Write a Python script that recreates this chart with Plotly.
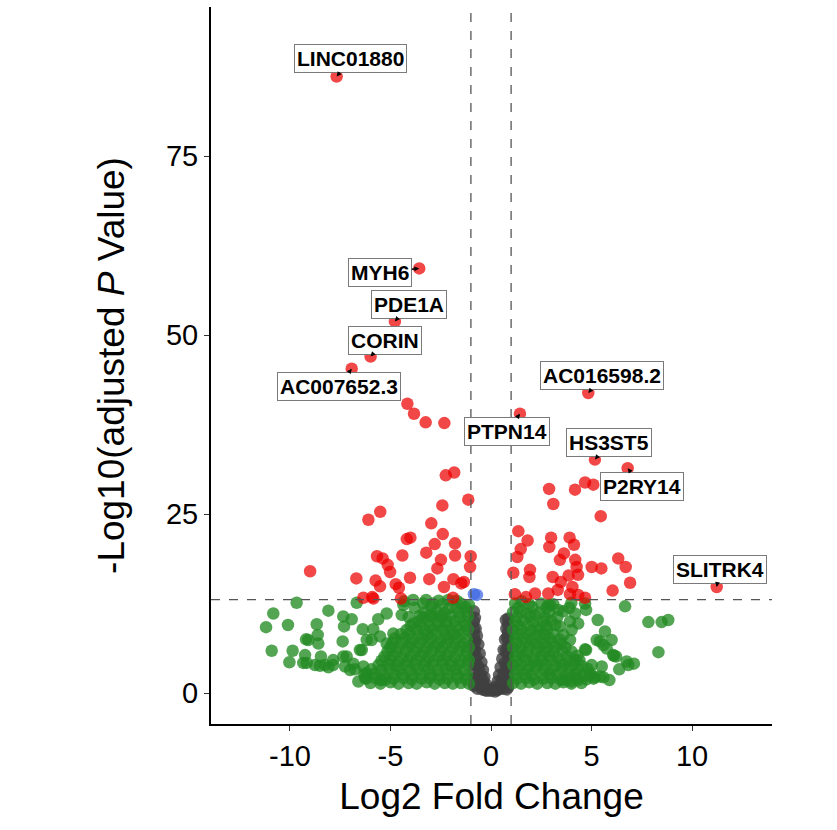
import plotly.graph_objects as go

# ---------------- data (log2 fold change, -log10 adjusted p) ----------------
label_genes = ["LINC01880", "MYH6", "PDE1A", "CORIN", "AC007652.3",
               "PTPN14", "AC016598.2", "HS3ST5", "P2RY14", "SLITRK4"]
label_lfc = [-7.68, -3.57, -4.78, -5.99, -6.93, 1.44, 4.84, 5.17, 6.80, 11.23]
label_padj = [86.1, 59.3, 51.9, 47.0, 45.3, 39.0, 41.9, 32.6, 31.4, 14.8]
# label offsets from point (px, right / down)
label_dx = [14, -39, 14, 14, -13, -13, 14, 14, 14, 3]
label_dy = [-18, 4, -17, -16, 18, 18, -17, -17, 18, -18]

red_pts = [
    (-4.16, 40.4), (-3.83, 39.0), (-3.25, 37.8), (-2.32, 37.7),
    (-2.25, 30.4), (-1.83, 30.8), (-1.13, 27.0), (-2.42, 26.2), (-5.51, 25.3),
    (-6.10, 24.2), (-2.97, 23.7), (-4.19, 21.5), (-4.01, 21.7), (-2.40, 22.2),
    (-2.80, 20.8), (-1.79, 20.9), (-3.22, 19.6), (-4.41, 19.2), (-5.67, 19.1),
    (-5.39, 18.8), (-1.79, 19.2), (-1.01, 19.1), (-2.49, 18.6), (-5.14, 17.9),
    (-1.04, 17.6), (-2.67, 17.4), (-5.02, 16.9), (-6.70, 16.0), (-4.03, 16.1),
    (-3.07, 15.9), (-5.74, 15.7), (-1.87, 15.9), (-1.48, 15.3), (-1.35, 15.5),
    (-5.52, 14.9), (-4.74, 15.2), (-4.58, 14.7), (-2.34, 14.8), (-6.35, 13.3),
    (-5.91, 13.4), (-5.85, 13.2), (-4.48, 13.2), (-1.89, 13.3), (-9.00, 17.0),
    (2.89, 28.5), (4.18, 28.4), (4.68, 29.4), (5.09, 29.1), (3.10, 26.4),
    (5.46, 24.7), (1.36, 22.6), (1.82, 21.3), (2.99, 21.7), (3.91, 21.7),
    (1.48, 20.1), (2.90, 20.4), (4.13, 20.7), (1.31, 19.0), (3.63, 19.5),
    (3.43, 18.6), (4.19, 18.6), (6.33, 18.8), (1.94, 17.2), (4.26, 17.6),
    (5.01, 17.6), (5.49, 17.4), (6.70, 17.6), (1.11, 16.8), (1.91, 16.2),
    (3.07, 16.2), (3.86, 16.4), (4.33, 16.5), (3.47, 15.5), (4.05, 14.8),
    (3.32, 14.4), (6.92, 15.4), (6.05, 14.3), (2.85, 13.9), (3.93, 13.8),
    (1.19, 13.8), (2.19, 13.9), (4.68, 13.3), (1.74, 13.4), (4.34, 13.7),
]

blue_pts = [(-0.85, 13.8), (-0.70, 13.7)]

grey_pts = [
    (-0.85, 11.4), (-0.80, 10.5), (-0.76, 9.0), (-0.70, 8.0), (-0.63, 6.8),
    (-0.56, 5.5), (-0.48, 4.3), (-0.40, 3.2), (-0.33, 2.2), (-0.25, 1.2),
    (-0.15, 0.6), (-0.85, 9.0), (-0.85, 7.0), (-0.85, 5.0), (-0.85, 3.0),
    (-0.85, 1.0), (-0.80, 6.0), (-0.76, 4.0), (-0.72, 2.0), (-0.68, 0.6),
    (-0.58, 3.0), (-0.53, 1.2), (-0.45, 0.5), (-0.40, 1.8), (-0.30, 0.4),
    (-0.85, 10.0), (-0.85, 8.0), (-0.85, 6.0), (-0.85, 4.0), (-0.85, 2.0),
    (-0.78, 7.2), (-0.72, 5.0), (-0.66, 3.8), (-0.60, 2.2), (-0.78, 1.2),
    (-0.50, 2.4), (-0.35, 1.0), (-0.20, 0.3),
    (0.85, 10.4), (0.74, 10.2), (0.76, 9.0), (0.70, 7.5), (0.63, 6.0),
    (0.56, 4.8), (0.48, 3.6), (0.40, 2.5), (0.33, 1.6), (0.25, 0.9),
    (0.10, 0.4), (0.00, 0.3), (0.85, 8.5), (0.85, 6.5), (0.85, 4.5),
    (0.85, 2.5), (0.85, 0.8), (0.80, 5.5), (0.76, 3.5), (0.72, 1.6),
    (0.63, 0.6), (0.58, 2.2), (0.48, 1.0), (0.40, 0.5),
    (0.85, 9.5), (0.85, 7.5), (0.85, 5.5), (0.85, 3.5), (0.85, 1.6),
    (0.80, 7.8), (0.75, 6.0), (0.68, 4.2), (0.63, 2.8), (0.78, 0.5),
    (0.53, 1.6), (0.30, 0.4), (0.20, 0.2),
]

green_pts = [
    # left scattered
    (-9.67, 12.6), (-10.83, 11.1), (-11.19, 9.2), (-10.10, 9.5), (-10.91, 5.9),
    (-9.87, 5.9), (-10.03, 4.3), (-9.34, 4.2), (-9.17, 4.2), (-9.09, 7.4),
    (-9.20, 7.5), (-8.67, 9.6), (-8.62, 8.1), (-8.59, 6.9), (-8.09, 11.5),
    (-7.35, 10.7), (-7.31, 9.3), (-6.93, 10.3), (-7.38, 7.2), (-9.25, 5.3),
    (-8.46, 5.1), (-8.51, 3.8), (-8.09, 3.6), (-7.85, 4.6), (-7.35, 5.1),
    (-7.26, 3.7), (-7.01, 3.2), (-6.77, 3.3), (-6.35, 3.7), (-6.38, 8.9),
    (-6.68, 12.6), (-5.61, 10.3), (-5.19, 11.1), (-5.86, 8.9), (-6.43, 6.0),
    (-5.94, 7.4), (-6.19, 2.8), (-6.27, 2.1), (-5.44, 1.8), (-4.86, 8.3),
    (-4.44, 10.9), (-4.36, 12.3), (-3.37, 12.5), (-3.87, 9.7), (-7.18, 5.1),
    (-6.85, 4.1), (-7.85, 3.9), (-8.26, 3.9), (-8.76, 3.9), (-6.52, 6.0),
    (-6.18, 7.4), (-5.52, 7.9), (-5.19, 6.9), (-4.33, 12.8), (-3.87, 13.0),
    (-3.23, 13.0), (-2.60, 12.9), (-2.12, 13.0), (-1.71, 12.9), (-3.53, 10.8),
    (-3.03, 10.9), (-2.54, 10.8), (-2.04, 10.8), (-5.52, 1.8), (-6.60, 1.6),
    # left dense mass
    (-6.0, 1.4), (-5.5, 1.3), (-5.0, 1.5), (-4.6, 1.3), (-4.1, 1.4), (-3.7, 1.3),
    (-3.2, 1.5), (-2.8, 1.3), (-2.3, 1.4), (-1.9, 1.3), (-1.5, 1.4), (-1.1, 1.3),
    (-6.2, 2.0), (-5.75, 2.1), (-5.25, 1.9), (-4.85, 2.0), (-4.35, 2.1), (-3.95, 1.9),
    (-3.45, 2.0), (-3.05, 2.1), (-2.55, 1.9), (-2.15, 2.0), (-1.65, 2.1), (-1.25, 1.9),
    (-6.3, 2.6), (-5.8, 2.7), (-5.3, 2.5), (-4.8, 2.7), (-4.4, 2.6), (-3.9, 2.5),
    (-3.5, 2.7), (-3.0, 2.6), (-2.6, 2.5), (-2.1, 2.7), (-1.7, 2.6), (-1.2, 2.5),
    (-5.95, 3.3), (-5.45, 3.2), (-5.05, 3.4), (-4.55, 3.3), (-4.05, 3.2), (-3.65, 3.4),
    (-3.15, 3.3), (-2.65, 3.2), (-2.25, 3.4), (-1.75, 3.3), (-1.35, 3.2),
    (-5.6, 3.9), (-5.1, 4.0), (-4.7, 3.8), (-4.2, 3.9), (-3.8, 4.0), (-3.3, 3.8),
    (-2.9, 3.9), (-2.4, 4.0), (-2.0, 3.8), (-1.6, 3.9), (-1.15, 4.0),
    (-5.45, 4.5), (-5.0, 4.6), (-4.6, 4.4), (-4.15, 4.5), (-3.7, 4.6), (-3.25, 4.4),
    (-2.85, 4.5), (-2.4, 4.6), (-1.95, 4.4), (-1.5, 4.5), (-1.1, 4.6),
    (-5.3, 5.1), (-4.9, 5.2), (-4.4, 5.0), (-4.0, 5.1), (-3.5, 5.2), (-3.1, 5.0),
    (-2.6, 5.1), (-2.2, 5.2), (-1.8, 5.0), (-1.3, 5.1),
    (-5.15, 5.8), (-4.7, 5.7), (-4.25, 5.9), (-3.8, 5.8), (-3.35, 5.7), (-2.95, 5.9),
    (-2.5, 5.8), (-2.05, 5.7), (-1.6, 5.9), (-1.2, 5.8),
    (-5.0, 6.4), (-4.6, 6.3), (-4.1, 6.5), (-3.7, 6.4), (-3.2, 6.3), (-2.8, 6.5),
    (-2.4, 6.4), (-1.9, 6.3), (-1.5, 6.5), (-1.1, 6.4),
    (-4.9, 7.0), (-4.45, 7.1), (-4.0, 6.9), (-3.55, 7.0), (-3.1, 7.1), (-2.65, 6.9),
    (-2.2, 7.0), (-1.8, 7.1), (-1.35, 6.9),
    (-4.8, 7.6), (-4.3, 7.7), (-3.9, 7.5), (-3.4, 7.6), (-3.0, 7.7), (-2.5, 7.5),
    (-2.1, 7.6), (-1.7, 7.7), (-1.2, 7.5),
    (-4.5, 8.2), (-4.05, 8.3), (-3.6, 8.1), (-3.15, 8.2), (-2.7, 8.3), (-2.25, 8.1),
    (-1.85, 8.2), (-1.4, 8.3),
    (-4.2, 8.8), (-3.7, 8.9), (-3.3, 8.7), (-2.9, 8.8), (-2.4, 8.9), (-2.0, 8.7),
    (-1.6, 8.8), (-1.15, 8.9),
    (-4.0, 9.4), (-3.5, 9.5), (-3.05, 9.3), (-2.65, 9.4), (-2.2, 9.5), (-1.75, 9.3),
    (-1.25, 9.4),
    (-3.6, 10.0), (-3.1, 10.1), (-2.6, 9.9), (-2.2, 10.0), (-1.8, 10.1), (-1.3, 9.9),
    (-4.1, 10.6), (-3.4, 10.5), (-2.95, 10.7), (-2.45, 10.6), (-1.55, 10.5), (-1.15, 10.7),
    (-3.3, 11.3), (-2.7, 11.4), (-2.3, 11.2), (-1.6, 11.3), (-1.2, 11.4),
    (-3.8, 11.9), (-2.95, 12.0), (-2.1, 11.8), (-1.75, 11.9), (-1.25, 12.0),
    (-2.9, 12.5), (-2.4, 12.4), (-1.5, 12.5), (-1.1, 12.3),
    # right scattered
    (6.67, 12.1), (7.83, 9.9), (8.49, 9.9), (8.82, 10.2), (8.33, 5.7),
    (5.67, 8.6), (5.31, 10.2), (5.26, 7.4), (5.42, 7.2), (6.00, 7.4),
    (5.76, 6.2), (6.08, 5.3), (6.22, 5.1), (6.75, 4.4), (7.11, 4.1),
    (6.83, 3.9), (6.38, 3.3), (5.51, 3.7), (5.59, 2.2), (5.17, 2.2),
    (4.93, 2.4), (4.73, 6.0), (5.01, 3.9), (4.73, 11.6), (4.68, 12.5),
    (4.18, 11.1), (3.93, 10.0), (4.34, 9.7), (3.43, 9.3), (2.94, 12.3),
    (3.35, 11.6), (1.78, 11.1), (2.19, 10.9), (1.53, 12.8), (4.01, 8.8),
    (3.93, 7.4), (4.34, 1.8), (4.01, 1.6), (5.89, 1.8), (5.42, 2.3),
    (4.93, 2.8), (3.60, 1.8), (5.59, 6.7), (4.18, 4.6), (4.68, 6.1),
    (2.85, 12.3), (6.12, 5.2),
    # right dense mass
    (1.1, 1.4), (1.5, 1.3), (1.9, 1.5), (2.3, 1.3), (2.8, 1.4), (3.2, 1.3),
    (3.6, 1.5), (4.0, 1.3), (4.5, 1.4),
    (1.3, 2.0), (1.75, 2.1), (2.15, 1.9), (2.6, 2.0), (3.0, 2.1), (3.45, 1.9),
    (3.85, 2.0), (4.3, 2.1), (4.75, 1.9), (5.1, 2.0),
    (1.2, 2.6), (1.6, 2.7), (2.0, 2.5), (2.5, 2.6), (2.9, 2.7), (3.3, 2.5),
    (3.8, 2.6), (4.2, 2.7), (4.6, 2.5),
    (1.35, 3.3), (1.8, 3.2), (2.2, 3.4), (2.65, 3.3), (3.05, 3.2), (3.5, 3.4),
    (3.9, 3.3), (4.35, 3.2), (4.8, 3.4),
    (1.1, 3.9), (1.5, 4.0), (1.9, 3.8), (2.3, 3.9), (2.7, 4.0), (3.2, 3.8),
    (3.6, 3.9), (4.1, 4.0), (4.5, 3.8),
    (1.3, 4.5), (1.75, 4.6), (2.15, 4.4), (2.55, 4.5), (3.0, 4.6), (3.45, 4.4),
    (3.9, 4.5), (4.4, 4.6),
    (1.2, 5.1), (1.6, 5.2), (2.1, 5.0), (2.5, 5.1), (2.9, 5.2), (3.3, 5.0),
    (3.8, 5.1), (4.3, 5.2),
    (1.35, 5.8), (1.8, 5.7), (2.25, 5.9), (2.65, 5.8), (3.1, 5.7), (3.55, 5.9),
    (4.0, 5.8),
    (1.1, 6.4), (1.5, 6.3), (1.9, 6.5), (2.4, 6.4), (2.8, 6.3), (3.2, 6.5),
    (3.7, 6.4),
    (1.3, 7.0), (1.75, 7.1), (2.2, 6.9), (2.65, 7.0), (3.05, 7.1), (3.5, 6.9),
    (1.2, 7.6), (1.6, 7.7), (2.0, 7.5), (2.5, 7.6), (2.9, 7.7), (3.4, 7.5),
    (1.35, 8.2), (1.8, 8.3), (2.25, 8.1), (2.65, 8.2), (3.1, 8.3), (3.6, 8.1),
    (1.1, 8.8), (1.5, 8.9), (2.0, 8.7), (2.4, 8.8), (2.8, 8.9),
    (1.35, 9.4), (1.8, 9.5), (2.3, 9.3), (2.75, 9.4), (3.2, 9.5),
    (1.2, 10.0), (1.6, 10.1), (2.1, 9.9), (2.6, 10.0), (3.0, 10.1),
    (1.3, 10.6), (1.95, 10.7), (2.7, 10.5), (3.3, 10.6),
    (1.1, 11.3), (1.5, 11.4), (2.4, 11.2), (2.9, 11.3), (3.6, 11.4),
    (1.35, 11.9), (2.05, 12.0), (2.75, 11.8), (3.9, 11.9),
    (1.2, 12.5), (1.9, 12.4), (2.5, 12.5), (3.1, 12.4), (4.0, 12.6),
]

FC_CUT = 1.0
P_CUT = 13.05
X_RANGE = [-13.93, 13.98]
Y_RANGE = [-4.33, 95.81]

FONT = "Liberation Sans, Arial, sans-serif"


def xs(pts):
    return [p[0] for p in pts]


def ys(pts):
    return [p[1] for p in pts]


fig = go.Figure()


def add_group(pts, color, opacity):
    fig.add_trace(go.Scatter(
        x=xs(pts), y=ys(pts), mode="markers",
        marker=dict(size=12.5, color=color, opacity=opacity, line=dict(width=0)),
        hoverinfo="skip", showlegend=False,
    ))


add_group(grey_pts, "rgb(64,64,64)", 0.8)
add_group(green_pts, "rgb(34,139,34)", 0.78)
add_group(red_pts, "rgb(235,0,0)", 0.72)
add_group(list(zip(label_lfc, label_padj)), "rgb(235,0,0)", 0.72)
add_group(blue_pts, "rgb(65,105,225)", 0.75)

# threshold lines
dash_style = dict(color="#555555", width=1.3, dash="dash")
for xv in (-FC_CUT, FC_CUT):
    fig.add_shape(type="line", xref="x", yref="paper", x0=xv, x1=xv, y0=0, y1=1,
                  line=dash_style, layer="above")
fig.add_shape(type="line", xref="paper", yref="y", x0=0, x1=1, y0=P_CUT, y1=P_CUT,
              line=dash_style, layer="above")

# gene labels
for g, x, y, dx, dy in zip(label_genes, label_lfc, label_padj, label_dx, label_dy):
    fig.add_annotation(
        x=x, y=y, xref="x", yref="y", text="<b>" + g + "</b>",
        showarrow=True, ax=dx, ay=dy, axref="pixel", ayref="pixel",
        arrowhead=2, arrowsize=0.7, arrowwidth=1.4, arrowcolor="black", standoff=0,
        font=dict(family=FONT, size=21, color="black"),
        bgcolor="white", bordercolor="#7a7a7a", borderwidth=1, borderpad=2,
    )

fig.update_layout(
    width=837, height=830,
    margin=dict(l=211, r=65, t=7, b=106),
    paper_bgcolor="white", plot_bgcolor="white",
    font=dict(family=FONT, color="black"),
    xaxis=dict(
        range=X_RANGE, tickvals=[-10, -5, 0, 5, 10],
        ticktext=["-10", "-5", "0", "5", "10"],
        showgrid=False, zeroline=False,
        showline=True, linecolor="black", linewidth=2,
        ticks="outside", ticklen=5, tickcolor="#333333", tickwidth=1,
        tickfont=dict(size=29, family=FONT, color="black"),
        title=dict(text="Log2 Fold Change", font=dict(size=37, family=FONT),
                   standoff=12),
    ),
    yaxis=dict(
        range=Y_RANGE, tickvals=[0, 25, 50, 75],
        showgrid=False, zeroline=False,
        showline=True, linecolor="black", linewidth=2,
        ticks="outside", ticklen=5, tickcolor="#333333", tickwidth=1,
        tickfont=dict(size=29, family=FONT, color="black"),
        title=dict(text="-Log10(adjusted <i>P</i> Value)",
                   font=dict(size=37, family=FONT), standoff=30),
    ),
)

fig.write_html("out.html")
